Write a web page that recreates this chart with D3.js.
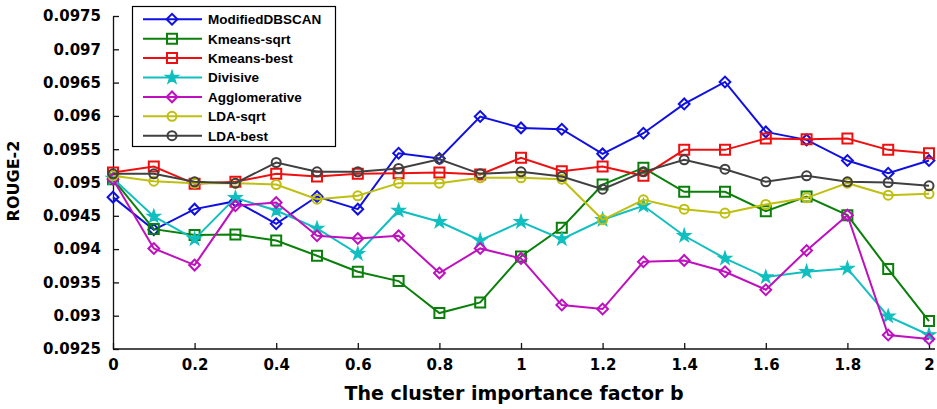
<!DOCTYPE html>
<html>
<head>
<meta charset="utf-8">
<script src="https://cdn.jsdelivr.net/npm/d3@7"></script>
<style>
  body { margin: 0; background: #fff; }
  svg { display: block; }
</style>
</head>
<body>
<div id="chart"></div>
<script>
// x positions (cluster importance factor b)
var factorB = [0, 0.1, 0.2, 0.3, 0.4, 0.5, 0.6, 0.7, 0.8, 0.9, 1.0, 1.1, 1.2, 1.3, 1.4, 1.5, 1.6, 1.7, 1.8, 1.9, 2.0];

// ROUGE-2 values
var modifiedDBSCAN = [0.09478, 0.09429, 0.09460, 0.09472, 0.09438, 0.09479, 0.09460, 0.09544, 0.09536, 0.09599, 0.09582, 0.09580, 0.09543, 0.09574, 0.09618, 0.09651, 0.09576, 0.09564, 0.09533, 0.09514, 0.09533];
var kmeansSqrt = [0.09505, 0.09430, 0.09421, 0.09422, 0.09413, 0.09390, 0.09366, 0.09352, 0.09304, 0.09320, 0.09389, 0.09432, 0.09497, 0.09522, 0.09486, 0.09486, 0.09457, 0.09479, 0.09451, 0.09370, 0.09292];
var kmeansBest = [0.09515, 0.09524, 0.09498, 0.09501, 0.09513, 0.09509, 0.09513, 0.09514, 0.09515, 0.09512, 0.09537, 0.09517, 0.09524, 0.09510, 0.09549, 0.09549, 0.09566, 0.09565, 0.09566, 0.09549, 0.09544];
var divisive = [0.09506, 0.09449, 0.09415, 0.09477, 0.09458, 0.09431, 0.09393, 0.09458, 0.09441, 0.09413, 0.09441, 0.09415, 0.09444, 0.09465, 0.09420, 0.09386, 0.09358, 0.09366, 0.09371, 0.09299, 0.09271];
var agglomerative = [0.09505, 0.09401, 0.09376, 0.09465, 0.09470, 0.09420, 0.09416, 0.09420, 0.09364, 0.09401, 0.09386, 0.09316, 0.09310, 0.09381, 0.09383, 0.09366, 0.09339, 0.09398, 0.09451, 0.09271, 0.09265];
var ldaSqrt = [0.09510, 0.09502, 0.09499, 0.09499, 0.09497, 0.09475, 0.09480, 0.09499, 0.09499, 0.09507, 0.09507, 0.09505, 0.09444, 0.09474, 0.09460, 0.09454, 0.09467, 0.09477, 0.09499, 0.09481, 0.09483];
var ldaBest = [0.09513, 0.09513, 0.09501, 0.09499, 0.09530, 0.09516, 0.09516, 0.09521, 0.09535, 0.09513, 0.09516, 0.09509, 0.09490, 0.09516, 0.09534, 0.09520, 0.09501, 0.09510, 0.09501, 0.09500, 0.09495];

var seriesNames = ['ModifiedDBSCAN', 'Kmeans-sqrt', 'Kmeans-best', 'Divisive', 'Agglomerative', 'LDA-sqrt', 'LDA-best'];
var seriesValues = [modifiedDBSCAN, kmeansSqrt, kmeansBest, divisive, agglomerative, ldaSqrt, ldaBest];

// tick labels
var xTicks = [0, 0.2, 0.4, 0.6, 0.8, 1, 1.2, 1.4, 1.6, 1.8, 2];
var yTicks = [0.0925, 0.093, 0.0935, 0.094, 0.0945, 0.095, 0.0955, 0.096, 0.0965, 0.097, 0.0975];

//Styling per series
var colors = ['#1010e0', '#0a800a', '#ee1010', '#10bfbf', '#bf10bf', '#bfbf10', '#404040'];
var markers = ['diamond', 'square', 'square', 'star', 'diamond', 'circle', 'circle'];

var width = 937,
  height = 409;

var x = d3.scaleLinear().domain([0, 2]).range([113, 929]);
var y = d3.scaleLinear().domain([0.0925, 0.0975]).range([349, 16]);

var svg = d3.select('#chart')
  .append('svg')
  .attr('width', width)
  .attr('height', height);

//Marker drawing helper
function drawMarker(g, type, color) {
  if (type == 'diamond') {
    g.append('path')
      .attr('d', d3.symbol().type(d3.symbolSquare).size(58)())
      .attr('transform', 'rotate(45)')
      .attr('fill', 'none')
      .attr('stroke', color)
      .attr('stroke-width', 2);
  } else if (type == 'square') {
    g.append('path')
      .attr('d', d3.symbol().type(d3.symbolSquare).size(100)())
      .attr('fill', 'none')
      .attr('stroke', color)
      .attr('stroke-width', 2);
  } else if (type == 'circle') {
    g.append('path')
      .attr('d', d3.symbol().type(d3.symbolCircle).size(64)())
      .attr('fill', 'none')
      .attr('stroke', color)
      .attr('stroke-width', 2);
  } else if (type == 'star') {
    g.append('path')
      .attr('d', d3.symbol().type(d3.symbolStar).size(55)())
      .attr('fill', color)
      .attr('stroke', color)
      .attr('stroke-width', 1.2);
  }
}

//Axes
var xAxis = d3.axisBottom(x).tickValues(xTicks).tickSizeInner(-6).tickSizeOuter(0).tickPadding(10)
  .tickFormat(function(d) { return d3.format('')(d); });
var yAxis = d3.axisLeft(y).tickValues(yTicks).tickSizeInner(-6).tickSizeOuter(0).tickPadding(12)
  .tickFormat(function(d) { return +d.toFixed(4); });

var gx = svg.append('g').attr('transform', 'translate(0,349)').call(xAxis);
var gy = svg.append('g').attr('transform', 'translate(113,0)').call(yAxis);

[gx, gy].forEach(function(g) {
  g.select('.domain').attr('stroke', '#111').attr('stroke-width', 1.3);
  g.selectAll('.tick line').attr('stroke', '#111').attr('stroke-width', 1.3);
  g.selectAll('.tick text')
    .attr('fill', '#000')
    .style('font-family', '"DejaVu Sans", sans-serif')
    .style('font-weight', 'bold')
    .style('font-size', '15px');
});
gx.select('.domain').attr('d', 'M113,0H935');

//Axis titles
svg.append('text')
  .attr('x', 514)
  .attr('y', 400)
  .attr('text-anchor', 'middle')
  .style('font-family', '"DejaVu Sans", sans-serif')
  .style('font-weight', 'bold')
  .style('font-size', '19px')
  .text('The cluster importance factor b');

svg.append('text')
  .attr('transform', 'translate(19,181) rotate(-90)')
  .attr('text-anchor', 'middle')
  .style('font-family', '"DejaVu Sans", sans-serif')
  .style('font-weight', 'bold')
  .style('font-size', '16px')
  .text('ROUGE-2');

//Lines and markers
var line = d3.line()
  .x(function(d, i) { return x(factorB[i]); })
  .y(function(d) { return y(d); });

seriesValues.forEach(function(vals, s) {
  svg.append('path')
    .datum(vals)
    .attr('d', line)
    .attr('fill', 'none')
    .attr('stroke', colors[s])
    .attr('stroke-width', 2);

  vals.forEach(function(v, i) {
    var g = svg.append('g').attr('transform', 'translate(' + x(factorB[i]) + ',' + y(v) + ')');
    drawMarker(g, markers[s], colors[s]);
  });
});

//Legend
var legend = svg.append('g');
legend.append('rect')
  .attr('x', 132.5)
  .attr('y', 6.5)
  .attr('width', 203)
  .attr('height', 140)
  .attr('fill', '#fff')
  .attr('stroke', '#000')
  .attr('stroke-width', 1.2);

seriesNames.forEach(function(name, s) {
  var ly = 19.3 + s * 19.4;
  legend.append('line')
    .attr('x1', 143).attr('x2', 202)
    .attr('y1', ly).attr('y2', ly)
    .attr('stroke', colors[s])
    .attr('stroke-width', 2);
  var g = legend.append('g').attr('transform', 'translate(172,' + ly + ')');
  drawMarker(g, markers[s], colors[s]);
  legend.append('text')
    .attr('x', 208)
    .attr('y', ly)
    .attr('dy', '0.36em')
    .style('font-family', '"Liberation Sans", Arial, sans-serif')
    .style('font-weight', 'bold')
    .style('font-size', '13.5px')
    .text(name);
});
</script>
</body>
</html>
